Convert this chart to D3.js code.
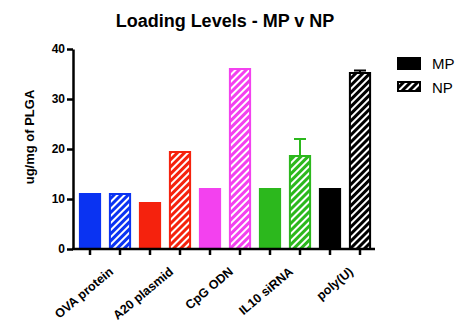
<!DOCTYPE html>
<html><head><meta charset="utf-8">
<script src="https://cdn.jsdelivr.net/npm/d3@7"></script>
<style>body{margin:0;background:#fff}svg{display:block}</style>
</head><body><svg id="c" width="458" height="326"></svg>
<script>
const categories = ["OVA protein","A20 plasmid","CpG ODN","IL10 siRNA","poly(U)"];
const seriesNames = ["MP","NP"];
const mpValues = [11.2, 9.4, 12.2, 12.2, 12.2];
const npValues = [11.2, 19.6, 36.2, 18.8, 35.4];
const npErrors = [0, 0, 0, 3.2, 0.3];
const colors = ["#0a33f2","#f5220d","#f341ef","#2cb81d","#000000"];
const yTicks = [0,10,20,30,40];

const svg = d3.select("#c");
const font = "'Liberation Sans', Arial, Helvetica, sans-serif";
const y = d3.scaleLinear().domain([0,40]).range([249,49]);
const x0 = d3.scaleBand().domain(categories).range([75,375]);
const x1 = d3.scaleBand().domain(seriesNames).range([0,x0.bandwidth()]);
const bw = x1.bandwidth()*0.74;

// hatch patterns
const defs = svg.append("defs");
colors.forEach((c,i)=>{
  const p = defs.append("pattern").attr("id","h"+i).attr("patternUnits","userSpaceOnUse")
    .attr("width",5).attr("height",5).attr("patternTransform","rotate(45)");
  p.append("rect").attr("width",5).attr("height",5).attr("fill",c);
  p.append("rect").attr("x",0).attr("width",2).attr("height",5).attr("fill","#fff");
});
const lp = defs.append("pattern").attr("id","hl").attr("patternUnits","userSpaceOnUse")
  .attr("width",5).attr("height",5).attr("patternTransform","rotate(45)");
lp.append("rect").attr("width",5).attr("height",5).attr("fill","#000");
lp.append("rect").attr("width",2).attr("height",5).attr("fill","#fff");

// bars
const g = svg.append("g");
categories.forEach((cat,i)=>{
  const cx = x0(cat);
  g.append("rect").attr("x",cx+x1("MP")+(x1.bandwidth()-bw)/2).attr("y",y(mpValues[i]))
    .attr("width",bw).attr("height",y(0)-y(mpValues[i])).attr("fill",colors[i]);
  if(npErrors[i]>0){
    const xc = cx+x1("NP")+x1.bandwidth()/2;
    g.append("line").attr("x1",xc).attr("x2",xc).attr("y1",y(npValues[i])).attr("y2",y(npValues[i]+npErrors[i]))
      .attr("stroke",colors[i]).attr("stroke-width",2);
    g.append("line").attr("x1",xc-6).attr("x2",xc+6).attr("y1",y(npValues[i]+npErrors[i])).attr("y2",y(npValues[i]+npErrors[i]))
      .attr("stroke",colors[i]).attr("stroke-width",2);
  }
  g.append("rect").attr("x",cx+x1("NP")+(x1.bandwidth()-bw)/2+1).attr("y",y(npValues[i])+1)
    .attr("width",bw-2).attr("height",y(0)-y(npValues[i])-1).attr("fill","url(#h"+i+")")
    .attr("stroke",colors[i]).attr("stroke-width",2);
});

// y axis
const ya = svg.append("g").attr("transform","translate(73,0)")
  .call(d3.axisLeft(y).tickValues(yTicks).tickSize(6).tickSizeOuter(0).tickPadding(2));
ya.select(".domain").attr("stroke-width",2.5);
ya.selectAll(".tick line").attr("stroke-width",2.5);
ya.selectAll("text").attr("font-family",font).attr("font-weight","bold").attr("font-size",12).attr("fill","#000");

// x axis
const barKeys = [];
categories.forEach(c=>seriesNames.forEach(s=>barKeys.push(c+"|"+s)));
const xb = d3.scaleBand().domain(barKeys).range([75,375]);
const xa = svg.append("g").attr("transform","translate(0,"+y(0)+")")
  .call(d3.axisBottom(xb).tickSize(6).tickSizeOuter(0).tickFormat(""));
xa.select(".domain").attr("stroke-width",2.5).attr("d","M72,0H375");
xa.selectAll(".tick line").attr("stroke-width",2.5);

// x labels
svg.append("g").selectAll("text").data(categories).join("text")
  .attr("transform",d=>"translate("+(x0(d)+x0.bandwidth()/2+9)+","+(y(0)+24)+") rotate(-40)")
  .attr("text-anchor","end").attr("font-family",font).attr("font-weight","bold")
  .attr("font-size",12.5).text(d=>d);

// y label
svg.append("text").attr("transform","translate(34,137) rotate(-90)").attr("text-anchor","middle")
  .attr("font-family",font).attr("font-weight","bold").attr("font-size",13).text("ug/mg of PLGA");

// title
svg.append("text").attr("x",225).attr("y",27).attr("text-anchor","middle")
  .attr("font-family",font).attr("font-weight","bold").attr("font-size",18).text("Loading Levels - MP v NP");

// legend
const leg = svg.append("g");
seriesNames.forEach((s,i)=>{
  const yy = 57 + i*24;
  leg.append("rect").attr("x",i?398:397).attr("y",i?yy+1:yy).attr("width",i?22:24).attr("height",i?9:13)
    .attr("fill",i?"url(#hl)":"#000").attr("stroke",i?"#000":"none").attr("stroke-width",2);
  leg.append("text").attr("x",432).attr("y",yy+12).attr("font-family",font).attr("font-size",15).text(s);
});
</script></body></html>
